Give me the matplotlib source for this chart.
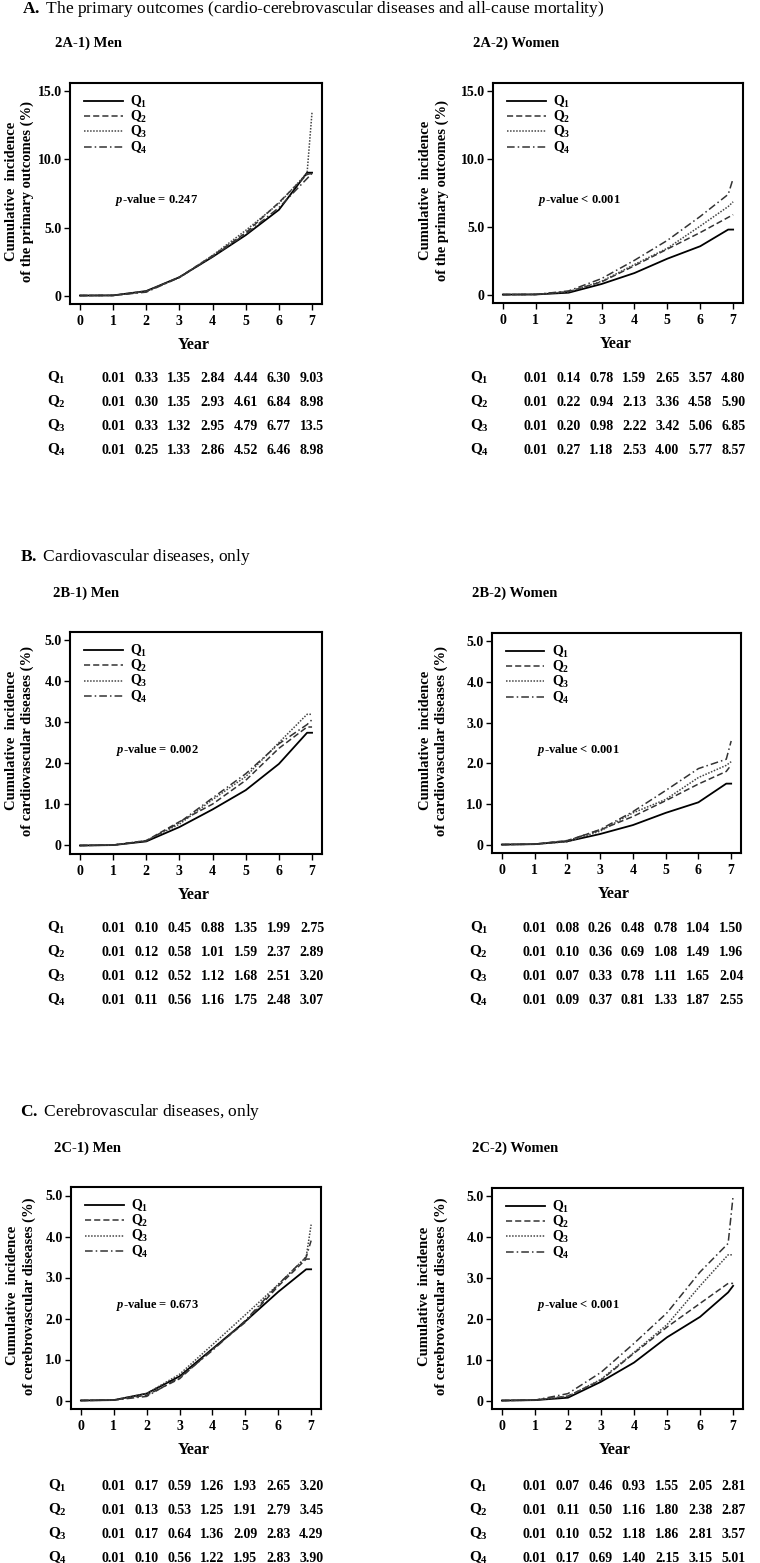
import matplotlib
matplotlib.use("Agg")
import matplotlib.pyplot as plt
import matplotlib.transforms as mtransforms

plt.rcParams["font.family"] = ["Liberation Serif", "DejaVu Serif"]
plt.rcParams["mathtext.fontset"] = "custom"
plt.rcParams["mathtext.rm"] = "Liberation Serif:bold"
plt.rcParams["mathtext.bf"] = "Liberation Serif:bold"
plt.rcParams["mathtext.it"] = "Liberation Serif:bold:italic"

W, H = 760, 1563

# years at which the tables report cumulative incidence (%)
YEARS = [1, 2, 3, 4, 5, 6, 7]
TAIL_YEAR = 6.85          # last step before the end of follow-up
QUARTILES = ["Q$_1$", "Q$_2$", "Q$_3$", "Q$_4$"]

# panel A: primary outcomes
A_MEN = [[0.01, 0.33, 1.35, 2.84, 4.44, 6.30, 9.03],
         [0.01, 0.30, 1.35, 2.93, 4.61, 6.84, 8.98],
         [0.01, 0.33, 1.32, 2.95, 4.79, 6.77, 13.5],
         [0.01, 0.25, 1.33, 2.86, 4.52, 6.46, 8.98]]
A_MEN_TAIL = [9.03, 8.90, 9.00, 8.60]
A_WOMEN = [[0.01, 0.14, 0.78, 1.59, 2.65, 3.57, 4.80],
           [0.01, 0.22, 0.94, 2.13, 3.36, 4.58, 5.90],
           [0.01, 0.20, 0.98, 2.22, 3.42, 5.06, 6.85],
           [0.01, 0.27, 1.18, 2.53, 4.00, 5.77, 8.57]]
A_WOMEN_TAIL = [4.80, 5.70, 6.50, 7.40]

# panel B: cardiovascular diseases
B_MEN = [[0.01, 0.10, 0.45, 0.88, 1.35, 1.99, 2.75],
         [0.01, 0.12, 0.58, 1.01, 1.59, 2.37, 2.89],
         [0.01, 0.12, 0.52, 1.12, 1.68, 2.51, 3.20],
         [0.01, 0.11, 0.56, 1.16, 1.75, 2.48, 3.07]]
B_MEN_TAIL = [2.75, 2.89, 3.20, 2.95]
B_WOMEN = [[0.01, 0.08, 0.26, 0.48, 0.78, 1.04, 1.50],
           [0.01, 0.10, 0.36, 0.69, 1.08, 1.49, 1.96],
           [0.01, 0.07, 0.33, 0.78, 1.11, 1.65, 2.04],
           [0.01, 0.09, 0.37, 0.81, 1.33, 1.87, 2.55]]
B_WOMEN_TAIL = [1.50, 1.80, 1.95, 2.10]

# panel C: cerebrovascular diseases
C_MEN = [[0.01, 0.17, 0.59, 1.26, 1.93, 2.65, 3.20],
         [0.01, 0.13, 0.53, 1.25, 1.91, 2.79, 3.45],
         [0.01, 0.17, 0.64, 1.36, 2.09, 2.83, 4.29],
         [0.01, 0.10, 0.56, 1.22, 1.95, 2.83, 3.90]]
C_MEN_TAIL = [3.20, 3.45, 3.50, 3.50]
C_WOMEN = [[0.01, 0.07, 0.46, 0.93, 1.55, 2.05, 2.81],
           [0.01, 0.11, 0.50, 1.16, 1.80, 2.38, 2.87],
           [0.01, 0.10, 0.52, 1.18, 1.86, 2.81, 3.57],
           [0.01, 0.17, 0.69, 1.40, 2.15, 3.15, 5.01]]
C_WOMEN_TAIL = [2.65, 2.87, 3.57, 3.85]

STYLES = [dict(color="black", ls="-", lw=1.3),
          dict(color="#333333", ls=(0, (4, 2)), lw=1.1),
          dict(color="#444444", ls=(0, (1, 1)), lw=1.1),
          dict(color="#333333", ls=(0, (5, 2, 1, 2)), lw=1.1)]

fig = plt.figure(figsize=(W / 100, H / 100), dpi=100)


def fig_text(x, y, s, **kw):
    fig.text(x / W, 1 - y / H, s, va="center", **kw)


def panel(box, series, tails, ymax, ylab, pval, title, title_xy, rows, men):
    x0, y0, x1, y1 = box
    ax = fig.add_axes([x0 / W, 1 - y1 / H, (x1 - x0) / W, (y1 - y0) / H])
    for vals, tail, st in zip(series, tails, STYLES):
        xs = [0] + YEARS[:6] + [TAIL_YEAR, YEARS[6]]
        ys = [0] + vals[:6] + [tail, vals[6]]
        ax.plot(xs, ys, **st)
    pad = ymax * 8.5 / 205
    ax.set_ylim(-pad, ymax + pad)
    ax.set_xlim(-0.3, 7.3)
    ax.set_xticks(range(8))
    step = 5 if ymax > 5 else 1
    yt = list(range(0, int(ymax) + 1, step))
    ax.set_yticks(yt)
    ax.set_yticklabels(["0"] + [f"{v:.1f}" for v in yt[1:]])
    ax.tick_params(direction="out", length=4, width=1, labelsize=10, pad=2)
    ax.tick_params(axis="x", pad=4)
    for lab in ax.get_xticklabels() + ax.get_yticklabels():
        lab.set_fontweight("bold")
    for sp in ax.spines.values():
        sp.set_linewidth(1.5)
    ax.legend(QUARTILES, loc="upper left", bbox_to_anchor=(0.035, 0.975),
              frameon=False, borderaxespad=0, handlelength=2.75,
              handletextpad=0.55, labelspacing=-0.07, prop=dict(size=10, weight="bold"))
    ax.text(0.345, 0.47, pval, transform=ax.transAxes, ha="center", va="center",
            fontsize=9, fontweight="bold")
    ax.text(-0.2 if men else -0.235, 0.51, ylab, transform=ax.transAxes, rotation=90,
            ha="center", va="center", fontsize=10.5, fontweight="bold",
            multialignment="center", linespacing=1.3)
    ax.text(0.49, -(41 / (y1 - y0)), "Year", transform=ax.transAxes, ha="center",
            va="center", fontsize=11.5, fontweight="bold")
    fig_text(title_xy[0], title_xy[1], title, fontsize=10.5, fontweight="bold")
    tr = mtransforms.blended_transform_factory(ax.transData, fig.transFigure)
    for q, vals, ry in zip(QUARTILES, series, rows):
        yy = 1 - ry / H
        ax.text(-0.7, yy, q, transform=tr, ha="center", va="center", fontsize=11,
                fontweight="bold", clip_on=False)
        for yr, v in zip(YEARS, vals):
            s = f"{v:.1f}" if v >= 10 else f"{v:.2f}"
            ax.text(yr, yy, s, transform=tr, ha="center", va="center", fontsize=10,
                    fontweight="bold", clip_on=False)
    return ax


YL_A = "Cumulative  incidence\nof the primary outcomes (%)"
YL_B = "Cumulative  incidence\nof cardiovascular diseases (%)"
YL_C = "Cumulative  incidence\nof cerebrovascular diseases (%)"
ROWS_A = [378, 402, 426, 450]
ROWS_B = [928, 952, 976, 1000]
ROWS_C = [1486, 1510, 1534, 1558]

fig_text(22, 9, r"$\mathbf{A.}$ The primary outcomes (cardio-cerebrovascular diseases and all-cause mortality)",
         fontsize=12.5)
panel((70, 83, 322, 304), A_MEN, A_MEN_TAIL, 15, YL_A, "$p$-value = 0.247", "2A-1) Men",
      (55, 43), ROWS_A, True)
panel((493, 83, 743, 303), A_WOMEN, A_WOMEN_TAIL, 15, YL_A, "$p$-value < 0.001", "2A-2) Women",
      (473, 43), ROWS_A, False)

fig_text(20, 557, r"$\mathbf{B.}$ Cardiovascular diseases, only", fontsize=12.5)
panel((70, 632, 322, 854), B_MEN, B_MEN_TAIL, 5, YL_B, "$p$-value = 0.002", "2B-1) Men",
      (53, 593), ROWS_B, True)
panel((492, 633, 741, 853), B_WOMEN, B_WOMEN_TAIL, 5, YL_B, "$p$-value < 0.001", "2B-2) Women",
      (472, 593), ROWS_B, False)

fig_text(20, 1112, r"$\mathbf{C.}$ Cerebrovascular diseases, only", fontsize=12.5)
panel((71, 1187, 321, 1409), C_MEN, C_MEN_TAIL, 5, YL_C, "$p$-value = 0.673", "2C-1) Men",
      (54, 1148), ROWS_C, True)
panel((492, 1188, 743, 1409), C_WOMEN, C_WOMEN_TAIL, 5, YL_C, "$p$-value < 0.001", "2C-2) Women",
      (472, 1148), ROWS_C, False)

fig.savefig("out.png", dpi=100)
